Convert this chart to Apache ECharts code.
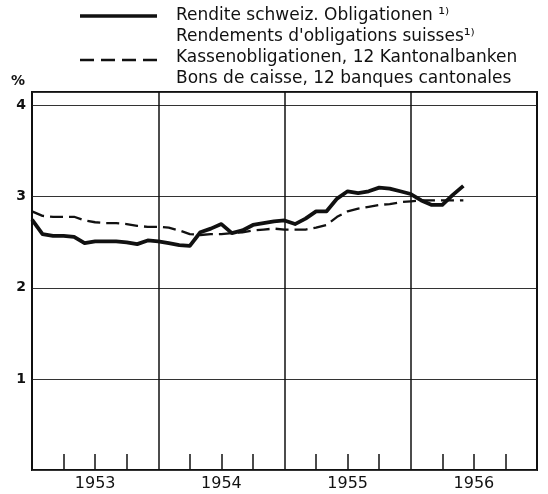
<!DOCTYPE html>
<html>
<head>
<meta charset="utf-8">
<script src="https://cdn.jsdelivr.net/npm/echarts@6/dist/echarts.min.js"></script>
<style>
  html, body { margin: 0; padding: 0; background: #fff; }
  #main { width: 548px; height: 494px; }
</style>
</head>
<body>
<div id="main"></div>
<script>
// monthly values from Jan 1953
const startYear = 1953;
const years = ['1953', '1954', '1955', '1956'];
// Rendite schweiz. Obligationen
const obligationen = [
  2.75, 2.59, 2.57, 2.57, 2.56, 2.49, 2.51, 2.51, 2.51, 2.50, 2.48, 2.52,
  2.51, 2.49, 2.47, 2.46, 2.61, 2.65, 2.70, 2.60, 2.63, 2.69, 2.71, 2.73,
  2.74, 2.70, 2.76, 2.84, 2.84, 2.98, 3.06, 3.04, 3.06, 3.10, 3.09, 3.06,
  3.03, 2.96, 2.91, 2.91, 3.02, 3.12
];
// Kassenobligationen, 12 Kantonalbanken
const kassenobligationen = [
  2.84, 2.79, 2.78, 2.78, 2.78, 2.74, 2.72, 2.71, 2.71, 2.70, 2.68, 2.67,
  2.67, 2.66, 2.63, 2.59, 2.58, 2.59, 2.59, 2.60, 2.61, 2.63, 2.64, 2.65,
  2.64, 2.64, 2.64, 2.66, 2.69, 2.78, 2.84, 2.87, 2.89, 2.91, 2.92, 2.94,
  2.95, 2.96, 2.96, 2.96, 2.96, 2.96
];

function toPoints(arr) {
  return arr.map((v, i) => [startYear + i / 12, v]);
}

const font = 'DejaVu Sans';
const ink = '#111';
const legendFont = '17px "DejaVu Sans"';

let chart = echarts.init(document.getElementById('main'));
chart.setOption({
  animation: false,
  backgroundColor: '#fff',
  grid: {
    left: 32, right: 11, top: 92, bottom: 24,
    show: true, borderColor: ink, borderWidth: 2
  },
  xAxis: [{
    type: 'value',
    min: 1953, max: 1957, interval: 1,
    axisLine: { show: false },
    axisTick: { show: false, inside: true },
    axisLabel: { show: false },
    minorTick: { show: true, splitNumber: 4, length: 16, lineStyle: { color: ink, width: 1.5 } },
    splitLine: { show: true, lineStyle: { color: ink, width: 1.5 } }
  }, {
    type: 'category',
    data: years,
    boundaryGap: true,
    position: 'bottom',
    axisLine: { show: false },
    axisTick: { show: false },
    splitLine: { show: false },
    axisLabel: { color: ink, fontFamily: font, fontSize: 16, margin: 6 }
  }],
  yAxis: {
    type: 'value',
    min: 0, max: 4.15, interval: 1,
    axisLine: { show: false },
    axisTick: { show: false },
    axisLabel: {
      color: ink, fontFamily: font, fontSize: 14, fontWeight: 'bold', margin: 6,
      formatter: v => (v > 0 && Number.isInteger(v)) ? String(v) : ''
    },
    splitLine: { show: true, lineStyle: { color: '#333', width: 1 } }
  },
  series: [{
    name: 'Rendite schweiz. Obligationen',
    type: 'line',
    xAxisIndex: 0,
    data: toPoints(obligationen),
    showSymbol: false,
    lineStyle: { color: ink, width: 3.8, join: 'round' }
  }, {
    name: 'Kassenobligationen, 12 Kantonalbanken',
    type: 'line',
    xAxisIndex: 0,
    data: toPoints(kassenobligationen),
    showSymbol: false,
    lineStyle: { color: ink, width: 2.3, type: [13, 6] }
  }],
  graphic: [
    { type: 'line', shape: { x1: 80, y1: 16, x2: 157, y2: 16 }, style: { stroke: ink, lineWidth: 3.5 } },
    { type: 'line', shape: { x1: 80, y1: 60, x2: 157, y2: 60 }, style: { stroke: ink, lineWidth: 2.3, lineDash: [14, 7] } },
    { type: 'text', x: 176, y: 16, style: { text: 'Rendite schweiz. Obligationen ¹⁾', fill: ink, font: legendFont, verticalAlign: 'middle' } },
    { type: 'text', x: 176, y: 37, style: { text: 'Rendements d\'obligations suisses¹⁾', fill: ink, font: legendFont, verticalAlign: 'middle' } },
    { type: 'text', x: 176, y: 58, style: { text: 'Kassenobligationen, 12 Kantonalbanken', fill: ink, font: legendFont, verticalAlign: 'middle' } },
    { type: 'text', x: 176, y: 79, style: { text: 'Bons de caisse, 12 banques cantonales', fill: ink, font: legendFont, verticalAlign: 'middle' } },
    { type: 'text', x: 18, y: 81, style: { text: '%', fill: ink, font: 'bold 14px "DejaVu Sans"', align: 'center', verticalAlign: 'middle' } }
  ]
});
</script>
</body>
</html>
